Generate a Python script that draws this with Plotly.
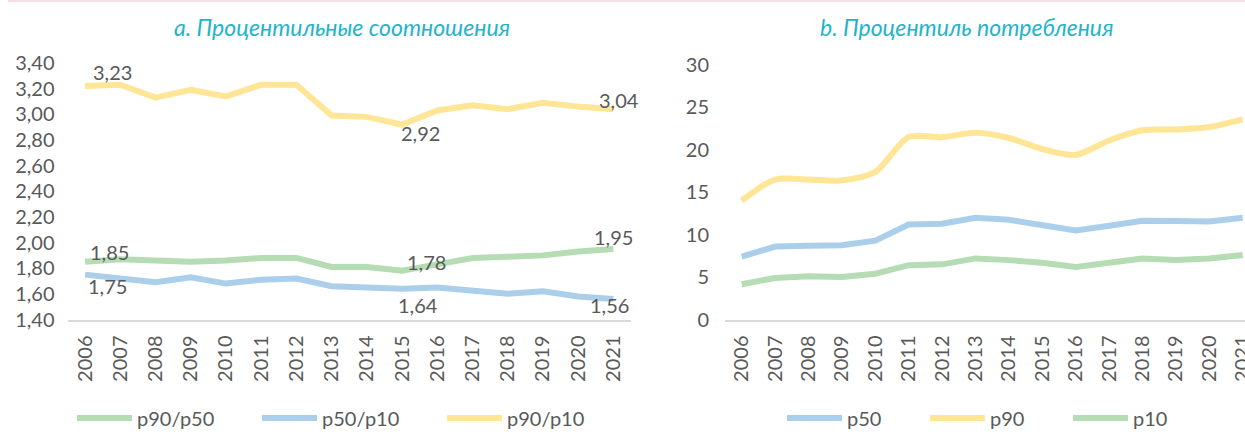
import plotly.graph_objects as go

years = list(range(2006, 2022))

# Panel a: percentile ratios
p90_p50 = [1.85, 1.87, 1.86, 1.85, 1.86, 1.88, 1.88, 1.81, 1.81, 1.78, 1.83, 1.88, 1.89, 1.90, 1.93, 1.95]
p50_p10 = [1.75, 1.72, 1.69, 1.73, 1.68, 1.71, 1.72, 1.66, 1.65, 1.64, 1.65, 1.63, 1.60, 1.62, 1.58, 1.56]
p90_p10 = [3.22, 3.23, 3.13, 3.19, 3.14, 3.23, 3.23, 2.99, 2.98, 2.92, 3.03, 3.07, 3.04, 3.09, 3.06, 3.04]

# Panel b: consumption percentiles
p50 = [7.4, 8.6, 8.7, 8.75, 9.3, 11.2, 11.3, 12.0, 11.75, 11.2, 10.5, 11.05, 11.65, 11.6, 11.55, 12.0]
p90 = [14.0, 16.5, 16.5, 16.4, 17.4, 21.5, 21.5, 22.0, 21.4, 20.1, 19.4, 21.1, 22.3, 22.4, 22.7, 23.6]
p10 = [4.15, 4.9, 5.1, 5.0, 5.4, 6.4, 6.5, 7.2, 7.0, 6.7, 6.2, 6.7, 7.2, 7.0, 7.2, 7.6]

title_a = "a. Процентильные соотношения"
title_b = "b. Процентиль потребления"

GREEN = "#B5DCB2"
BLUE = "#ABCFEA"
YELLOW = "#FFE596"
TXT = "#595959"
TEAL = "#1FB4CB"
FONT = "Lato"
LW = 6
FS = 20

fig = go.Figure()

fig.add_trace(go.Scatter(x=years, y=p90_p50, name="p90/p50", mode="lines",
                         line=dict(color=GREEN, width=LW), xaxis="x", yaxis="y", legend="legend"))
fig.add_trace(go.Scatter(x=years, y=p50_p10, name="p50/p10", mode="lines",
                         line=dict(color=BLUE, width=LW), xaxis="x", yaxis="y", legend="legend"))
fig.add_trace(go.Scatter(x=years, y=p90_p10, name="p90/p10", mode="lines",
                         line=dict(color=YELLOW, width=LW), xaxis="x", yaxis="y", legend="legend"))

fig.add_trace(go.Scatter(x=years, y=p50, name="p50", mode="lines",
                         line=dict(color=BLUE, width=LW), xaxis="x2", yaxis="y2", legend="legend2"))
fig.add_trace(go.Scatter(x=years, y=p90, name="p90", mode="lines",
                         line=dict(color=YELLOW, width=LW, shape="spline", smoothing=0.8),
                         xaxis="x2", yaxis="y2", legend="legend2"))
fig.add_trace(go.Scatter(x=years, y=p10, name="p10", mode="lines",
                         line=dict(color=GREEN, width=LW), xaxis="x2", yaxis="y2", legend="legend2"))

# data labels (series, year index, xshift, yshift)
labels = [
    (p90_p10, 1, -8, 13),
    (p90_p10, 9, 18, -8),
    (p90_p10, 15, 6, 9),
    (p90_p50, 0, 24, 10),
    (p90_p50, 9, 24, 9),
    (p90_p50, 15, 0, 12),
    (p50_p10, 0, 22, -11),
    (p50_p10, 9, 16, -16),
    (p50_p10, 15, -4, -6),
]
annotations = []
for series, i, dx, dy in labels:
    annotations.append(dict(
        x=years[i], y=series[i], xref="x", yref="y",
        text=f"{series[i]:.2f}".replace(".", ","), showarrow=False,
        xshift=dx, yshift=dy, font=dict(family=FONT, size=FS, color=TXT)))

annotations.append(dict(x=342 / 1245, y=1 - 27 / 432, xref="paper", yref="paper", text=f"<i>{title_a}</i>",
                        xanchor="center", yanchor="middle",
                        showarrow=False, font=dict(family=FONT, size=23, color=TEAL)))
annotations.append(dict(x=967 / 1245, y=1 - 27 / 432, xref="paper", yref="paper", text=f"<i>{title_b}</i>",
                        xanchor="center", yanchor="middle",
                        showarrow=False, font=dict(family=FONT, size=23, color=TEAL)))

W, H = 1245, 432
y_bottom = (H - 319.5) / H

xaxis_common = dict(
    tickmode="array", tickvals=years, ticktext=[str(y) for y in years], tickangle=-90,
    showgrid=False, zeroline=False, showline=True, linecolor="#D9D9D9", linewidth=2,
    ticks="", tickfont=dict(family=FONT, size=FS, color=TXT), ticklabelstandoff=6,
    automargin=False, ticklabeloverflow="allow",
)
yaxis_common = dict(
    showgrid=False, zeroline=False, showline=False, ticks="",
    tickfont=dict(family=FONT, size=FS, color=TXT), automargin=False,
)

fig.update_layout(
    width=W, height=H, autosize=False,
    margin=dict(l=0, r=0, t=0, b=0, pad=0, autoexpand=False),
    paper_bgcolor="white", plot_bgcolor="white",
    separators=", ",
    font=dict(family=FONT, color=TXT),
    xaxis=dict(domain=[67.5 / W, 631 / W], range=[2005.5, 2021.5], anchor="y", **xaxis_common),
    yaxis=dict(domain=[y_bottom, (H - 63) / H], range=[1.4, 3.4], tickformat=".2f", dtick=0.2,
               tick0=1.4, anchor="x", ticklabelstandoff=12, **yaxis_common),
    xaxis2=dict(domain=[725 / W, 1.0], range=[2005.5, 2005.5 + (1245 - 725) / 33.4], anchor="y2",
                **xaxis_common),
    yaxis2=dict(domain=[y_bottom, (H - 65) / H], range=[0, 30], dtick=5, anchor="x2",
                ticklabelstandoff=15, **yaxis_common),
    legend=dict(orientation="h", x=72 / W, y=1 - 418 / H, xanchor="left", yanchor="middle",
                font=dict(family=FONT, size=FS, color=TXT), entrywidth=115, entrywidthmode="pixels",
                itemwidth=55, bgcolor="rgba(0,0,0,0)", traceorder="normal"),
    legend2=dict(orientation="h", x=782 / W, y=1 - 418 / H, xanchor="left", yanchor="middle",
                 font=dict(family=FONT, size=FS, color=TXT), entrywidth=73, entrywidthmode="pixels",
                 itemwidth=55, bgcolor="rgba(0,0,0,0)", traceorder="normal"),
    annotations=annotations,
    shapes=[dict(type="line", xref="paper", yref="paper", x0=8 / W, x1=1, y0=1 - 1 / H, y1=1 - 1 / H,
                 line=dict(color="#F5DDE2", width=2))],
    showlegend=True,
)

fig.write_html("out.html", config={"displayModeBar": False},
               post_script="document.body.style.margin='0';document.body.style.padding='0';")
